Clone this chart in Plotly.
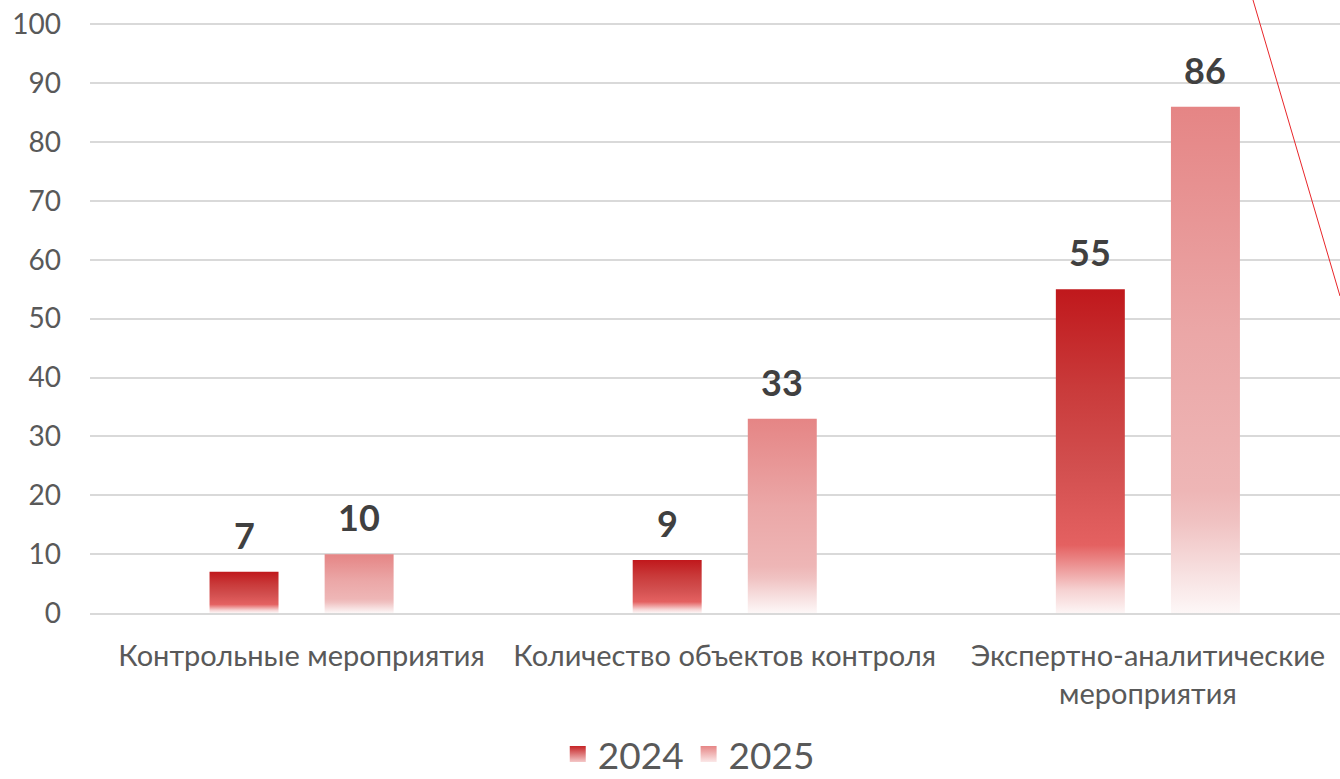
import plotly.graph_objects as go

categories = ["Контрольные мероприятия", "Количество объектов контроля", "Экспертно-аналитические<br>мероприятия"]
series_names = ["2024", "2025"]
values_2024 = [7, 9, 55]
values_2025 = [10, 33, 86]
y_ticks = [0, 10, 20, 30, 40, 50, 60, 70, 80, 90, 100]

scales = {
    "2024": [[0, "#FDF5F5"], [0.07, "#F6D2D2"], [0.15, "#EC9090"], [0.21, "#E46161"],
             [0.45, "#D24F4F"], [0.7, "#C93A3A"], [1, "#C0181C"]],
    "2025": [[0, "#FDF7F7"], [0.08, "#F7E0E0"], [0.18, "#F0C2C2"], [0.24, "#EEB6B6"],
             [0.55, "#EBA7A7"], [1, "#E58585"]],
}
legend_colors = {"2024": ("#C62426", "#F4C8C8"), "2025": ("#E68686", "#FBE8E8")}
offsets = {"2024": -0.136, "2025": 0.136}
bar_w = 0.163
FONT = "Lato, 'Open Sans', sans-serif"

fig = go.Figure()
for name, vals in zip(series_names, [values_2024, values_2025]):
    for i, v in enumerate(vals):
        xc = i + offsets[name]
        fig.add_trace(go.Scatter(
            x=[xc - bar_w / 2, xc - bar_w / 2, xc + bar_w / 2, xc + bar_w / 2, xc - bar_w / 2],
            y=[0, v, v, 0, 0],
            mode="lines", line=dict(width=0),
            fill="toself",
            fillgradient=dict(type="vertical", colorscale=scales[name]),
            name=name, legendgroup=name, showlegend=False,
            hoverinfo="text", text=f"{name}: {v}",
        ))
        fig.add_annotation(x=xc, y=v, text=f"<b>{v}</b>", showarrow=False,
                           yanchor="bottom", yshift=13,
                           font=dict(family=FONT, size=36, color="#404040"))
    c1, c2 = legend_colors[name]
    fig.add_trace(go.Scatter(
        x=[None], y=[None], mode="markers", name=name, legendgroup=name,
        marker=dict(symbol="square", size=24, color=c1,
                    gradient=dict(type="vertical", color=c2)),
    ))

fig.add_shape(type="line", xref="paper", yref="paper",
              x0=(1253 - 90) / 1250, y0=613 / 591,
              x1=1.0, y1=(613 - 296) / 591,
              line=dict(color="#E8262A", width=1))

fig.update_layout(
    width=1340, height=779,
    margin=dict(l=90, r=0, t=22, b=166, autoexpand=False),
    paper_bgcolor="white", plot_bgcolor="white",
    font=dict(family=FONT, color="#595959"),
    showlegend=True,
    legend=dict(orientation="h", x=0.479, xanchor="center", y=-0.187, yanchor="top",
                font=dict(size=37, color="#595959"), itemwidth=30, traceorder="normal"),
    xaxis=dict(range=[-0.5, 2.454], tickvals=[0, 1, 2], ticktext=categories,
               showgrid=False, zeroline=False, showline=True, linecolor="#D9D9D9", linewidth=2,
               ticks="", tickfont=dict(size=29, color="#595959"), ticklabelstandoff=16),
    yaxis=dict(range=[0, 100.4], tickvals=y_ticks, showgrid=True, gridcolor="#D9D9D9", gridwidth=1.5,
               zeroline=False, showline=False, ticks="", ticklabeloverflow="allow",
               tickfont=dict(size=28, color="#595959"), ticklabelstandoff=28),
)

fig.write_html("out.html", config={"displayModeBar": False},
               post_script="document.body.style.margin='0';")
